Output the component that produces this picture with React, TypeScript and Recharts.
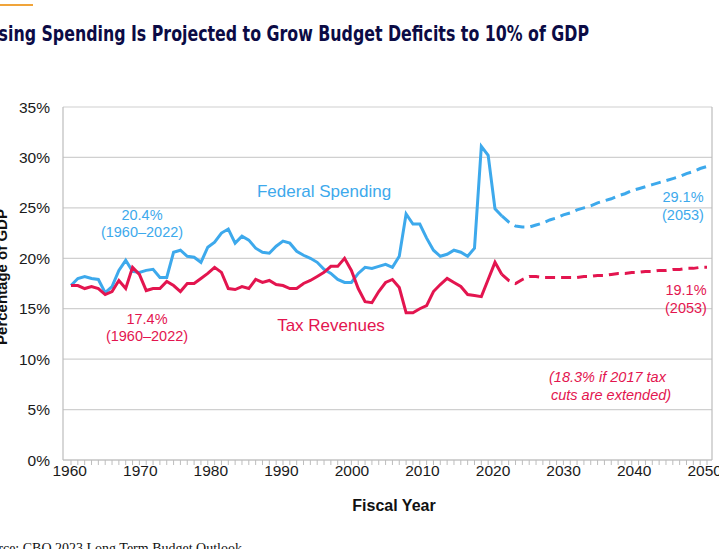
import React from "react";
import {
  LineChart,
  Line,
  XAxis,
  YAxis,
  CartesianGrid,
} from "recharts";

// Federal outlays and revenues, percent of GDP (actuals 1960–2023)
const FIRST_YEAR = 1960;
const spendingActual = [
  17.3, 18.0, 18.2, 18.0, 17.9, 16.6, 17.2, 18.8, 19.8, 18.7,
  18.6, 18.8, 18.9, 18.1, 18.1, 20.6, 20.8, 20.2, 20.1, 19.6,
  21.1, 21.6, 22.5, 22.9, 21.5, 22.2, 21.8, 21.0, 20.6, 20.5,
  21.2, 21.7, 21.5, 20.7, 20.3, 20.0, 19.6, 18.9, 18.5, 17.9,
  17.6, 17.6, 18.5, 19.1, 19.0, 19.2, 19.4, 19.1, 20.2, 24.4,
  23.4, 23.4, 22.0, 20.8, 20.2, 20.4, 20.8, 20.6, 20.2, 21.0,
  31.1, 30.2, 24.9, 24.2,
];
const revenueActual = [
  17.3, 17.3, 17.0, 17.2, 17.0, 16.4, 16.7, 17.8, 17.0, 19.1,
  18.4, 16.8, 17.0, 17.0, 17.7, 17.3, 16.7, 17.5, 17.5, 18.0,
  18.5, 19.1, 18.6, 17.0, 16.9, 17.2, 17.0, 17.9, 17.6, 17.8,
  17.4, 17.3, 17.0, 17.0, 17.5, 17.8, 18.2, 18.6, 19.2, 19.2,
  20.0, 18.8, 17.0, 15.7, 15.6, 16.7, 17.6, 17.9, 17.1, 14.6,
  14.6, 15.0, 15.3, 16.7, 17.4, 18.0, 17.6, 17.2, 16.4, 16.3,
  16.2, 17.9, 19.6, 18.4,
];

// CBO projections 2023–2053
const PROJ_START = 2023;
const spendingProjected = [
  24.2, 23.6, 23.2, 23.1, 23.1, 23.3, 23.5, 23.8, 24.0, 24.3,
  24.5, 24.8, 25.0, 25.2, 25.5, 25.7, 25.9, 26.2, 26.4, 26.7,
  26.9, 27.1, 27.3, 27.5, 27.7, 27.9, 28.1, 28.4, 28.6, 28.9,
  29.1,
];
const revenueProjected = [
  18.4, 17.8, 17.5, 17.9, 18.2, 18.2, 18.1, 18.1, 18.1, 18.1,
  18.1, 18.1, 18.2, 18.2, 18.3, 18.3, 18.4, 18.5, 18.5, 18.6,
  18.6, 18.7, 18.7, 18.8, 18.8, 18.9, 18.9, 19.0, 19.0, 19.1,
  19.1,
];

const yTicks = [0, 5, 10, 15, 20, 25, 30, 35];
const decadeLabels = [1960, 1970, 1980, 1990, 2000, 2010, 2020, 2030, 2040, 2050];

const BLUE = "#3DA9EC";
const RED = "#E3154F";
const GRID = "#d0d0d0";
const AXIS = "#bdbdbd";
const SANS = "'Liberation Sans', Arial, Helvetica, sans-serif";

type Row = {
  year: number;
  spend?: number;
  rev?: number;
  spendProj?: number;
  revProj?: number;
};

const lastYear = PROJ_START + spendingProjected.length - 1;
const rows: Row[] = [];
for (let y = FIRST_YEAR; y <= lastYear; y++) {
  const r: Row = { year: y };
  const hi = y - FIRST_YEAR;
  if (hi < spendingActual.length) {
    r.spend = spendingActual[hi];
    r.rev = revenueActual[hi];
  }
  const pi = y - PROJ_START;
  if (pi >= 0) {
    r.spendProj = spendingProjected[pi];
    r.revProj = revenueProjected[pi];
  }
  rows.push(r);
}
const everyYear = rows.map((r) => r.year);

const DecadeTick = (props: any) => {
  const { x, y, payload } = props;
  return (
    <text
      x={x}
      y={y}
      dy="0.71em"
      textAnchor="middle"
      fontFamily={SANS}
      fontSize={15.5}
      fill="#1a1a1a"
    >
      {payload.value}
    </text>
  );
};

export default function App() {
  return (
    <div
      style={{
        position: "absolute",
        left: 0,
        top: 0,
        width: 719,
        height: 549,
        background: "#fff",
        overflow: "hidden",
      }}
    >
      <LineChart
        width={719}
        height={549}
        data={rows}
        margin={{ top: 107, right: 6, left: 0, bottom: 64 }}
      >
        <CartesianGrid
          xAxisId="dataYears"
          yAxisId="pct"
          vertical={false}
          stroke={GRID}
          strokeWidth={1.2}
        />
        <XAxis
          xAxisId="dataYears"
          dataKey="year"
          type="number"
          domain={[1958.83, 2053.73]}
          allowDataOverflow
          ticks={everyYear}
          interval={0}
          tickFormatter={() => ""}
          tickSize={5}
          tickLine={{ stroke: AXIS }}
          axisLine={{ stroke: AXIS, strokeWidth: 1.2 }}
          height={5}
        />
        <XAxis
          xAxisId="labelYears"
          dataKey="year"
          type="number"
          domain={[1959.05, 2051.03]}
          allowDataOverflow
          ticks={decadeLabels}
          interval={0}
          axisLine={false}
          tickLine={false}
          tickSize={0}
          tickMargin={0}
          tick={<DecadeTick />}
          height={20}
        />
        <YAxis
          yAxisId="pct"
          type="number"
          domain={[0, 35]}
          ticks={yTicks}
          interval={0}
          width={63}
          tickLine={false}
          tickSize={0}
          tickMargin={13}
          axisLine={{ stroke: AXIS, strokeWidth: 1.2 }}
          tickFormatter={(v: number) => `${v}%`}
          tick={{ fontFamily: SANS, fontSize: 15.5, fill: "#1a1a1a" }}
        />
        <YAxis
          yAxisId="edge"
          orientation="right"
          type="number"
          domain={[0, 35]}
          width={1}
          tick={false}
          tickLine={false}
          axisLine={{ stroke: AXIS, strokeWidth: 1.2 }}
        />
        <Line
          xAxisId="dataYears"
          yAxisId="pct"
          dataKey="spend"
          stroke={BLUE}
          strokeWidth={3}
          dot={false}
          activeDot={false}
          isAnimationActive={false}
        />
        <Line
          xAxisId="dataYears"
          yAxisId="pct"
          dataKey="rev"
          stroke={RED}
          strokeWidth={3}
          dot={false}
          activeDot={false}
          isAnimationActive={false}
        />
        <Line
          xAxisId="dataYears"
          yAxisId="pct"
          dataKey="spendProj"
          stroke={BLUE}
          strokeWidth={3}
          strokeDasharray="10 6"
          dot={false}
          activeDot={false}
          isAnimationActive={false}
        />
        <Line
          xAxisId="dataYears"
          yAxisId="pct"
          dataKey="revProj"
          stroke={RED}
          strokeWidth={3}
          strokeDasharray="10 6"
          dot={false}
          activeDot={false}
          isAnimationActive={false}
        />
      </LineChart>

      <svg
        width={719}
        height={549}
        style={{ position: "absolute", left: 0, top: 0, pointerEvents: "none" }}
      >
        <line x1={0} y1={5} x2={33} y2={5} stroke="#F0A43A" strokeWidth={2} />
        <text
          x={-19}
          y={41}
          textLength={608}
          lengthAdjust="spacingAndGlyphs"
          fontFamily="'Liberation Sans Narrow', 'DejaVu Sans Condensed', sans-serif"
          fontWeight="bold"
          fontSize={21}
          fill="#0B0B45"
        >
          Rising Spending Is Projected to Grow Budget Deficits to 10% of GDP
        </text>

        <text
          transform="translate(7, 277) rotate(-90)"
          textAnchor="middle"
          fontFamily={SANS}
          fontWeight="bold"
          fontSize={15}
          fill="#111"
        >
          Percentage of GDP
        </text>

        <text
          x={394}
          y={511}
          textAnchor="middle"
          fontFamily={SANS}
          fontWeight="bold"
          fontSize={16}
          fill="#111"
        >
          Fiscal Year
        </text>

        <g fontFamily={SANS} fontSize={14.5} fill={BLUE} textAnchor="middle">
          <text x={142} y={220}>20.4%</text>
          <text x={142} y={237}>(1960–2022)</text>
          <text x={683} y={202}>29.1%</text>
          <text x={683} y={220}>(2053)</text>
          <text x={324} y={197} fontSize={17}>Federal Spending</text>
        </g>
        <g fontFamily={SANS} fontSize={14.5} fill={RED} textAnchor="middle">
          <text x={147} y={324}>17.4%</text>
          <text x={147} y={341}>(1960–2022)</text>
          <text x={686} y={295}>19.1%</text>
          <text x={686} y={313}>(2053)</text>
          <text x={331} y={331} fontSize={17}>Tax Revenues</text>
        </g>
        <g fontFamily={SANS} fontSize={14.5} fill={RED} fontStyle="italic">
          <text x={549} y={382}>(18.3% if 2017 tax</text>
          <text x={551} y={400}>cuts are extended)</text>
        </g>

        <text
          x={242}
          y={553}
          textAnchor="end"
          fontFamily="'Liberation Serif', 'Times New Roman', serif"
          fontSize={14}
          fill="#111"
        >
          Source: CBO 2023 Long Term Budget Outlook
        </text>
      </svg>
    </div>
  );
}
